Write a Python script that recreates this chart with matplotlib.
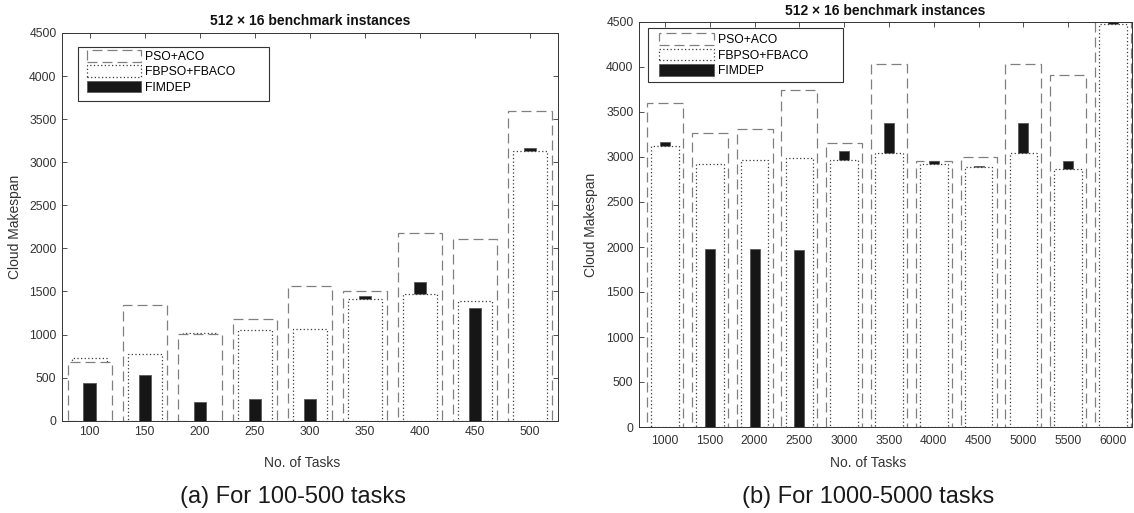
import matplotlib
matplotlib.use('Agg')
import matplotlib.pyplot as plt
from matplotlib.patches import Patch, Rectangle

plt.rcParams['font.family'] = ['Liberation Sans', 'DejaVu Sans']

# ---- data ----
series_names = ['PSO+ACO', 'FBPSO+FBACO', 'FIMDEP']

tasks_a = [100, 150, 200, 250, 300, 350, 400, 450, 500]
pso_aco_a = [683, 1345, 1012, 1175, 1565, 1510, 2180, 2110, 3595]
fbpso_fbaco_a = [722, 776, 1020, 1058, 1065, 1415, 1465, 1385, 3125]
fimdep_a = [436, 534, 213, 255, 255, 1450, 1605, 1310, 3162]

tasks_b = [1000, 1500, 2000, 2500, 3000, 3500, 4000, 4500, 5000, 5500, 6000]
pso_aco_b = [3595, 3262, 3311, 3745, 3160, 4030, 2958, 3000, 4030, 3915, 4600]
fbpso_fbaco_b = [3122, 2918, 2970, 2990, 2970, 3045, 2927, 2890, 3045, 2871, 4480]
fimdep_b = [3163, 1978, 1978, 1965, 3070, 3380, 2950, 2904, 3380, 2960, 4510]

# ---- styles ----
rel_width = [0.8, 0.62, 0.22]
styles = [
    dict(facecolor='white', edgecolor='#808080', linestyle=(0, (8, 4)), linewidth=0.9),
    dict(facecolor='white', edgecolor='#3a3a3a', linestyle=(0, (1, 1.9)), linewidth=0.9),
    dict(facecolor='#161616', edgecolor='#5a5a5a', linestyle='-', linewidth=0.6),
]
axis_col = '#333333'


def draw_panel(ax, tasks, cols, step, xlim, title_pad, xpad, ylab_x, xlab_xy, box, leg_xy):
    # taller bars go to the back so the shorter ones stay visible (MATLAB-like overlay)
    for i, x in enumerate(tasks):
        vals = [c[i] for c in cols]
        order = sorted(range(3), key=lambda k: -vals[k])
        for rank, k in enumerate(order):
            ax.bar(x, vals[k], width=rel_width[k] * step, zorder=2 + rank, **styles[k])

    ax.set_xlim(*xlim)
    ax.set_ylim(0, 4500)
    ax.set_xticks(tasks)
    ax.set_xticklabels([str(t) for t in tasks])
    ax.set_yticks(range(0, 4501, 500))
    ax.tick_params(direction='in', top=True, right=True, length=3.6, width=0.6,
                   labelsize=8.7, colors=axis_col, pad=4)
    ax.tick_params(axis='x', pad=xpad)
    for sp in ax.spines.values():
        sp.set_color(axis_col)
        sp.set_linewidth(0.7)
        sp.set_zorder(8)

    ax.set_title('512 × 16 benchmark instances', fontsize=10, fontweight='bold',
                 color='#111111', pad=title_pad)
    ax.set_ylabel('Cloud Makespan', fontsize=10, color=axis_col)
    ax.yaxis.set_label_coords(ylab_x, 0.5)
    ax.set_xlabel('No. of Tasks', fontsize=10, color=axis_col)
    ax.xaxis.set_label_coords(*xlab_xy)

    x0, x1, yb, yt = box
    ax.add_patch(Rectangle((x0, yb), x1 - x0, yt - yb, transform=ax.transAxes,
                           facecolor='white', edgecolor=axis_col, linewidth=0.8,
                           zorder=9, clip_on=False))
    handles = [Patch(**s) for s in styles]
    leg = ax.legend(handles, series_names, loc='upper left', bbox_to_anchor=leg_xy,
                    borderaxespad=0, borderpad=0, frameon=False, fontsize=8.7,
                    handlelength=4.5, handleheight=1.1, handletextpad=0.35,
                    labelspacing=0.2)
    leg.set_zorder(10)


fig = plt.figure(figsize=(11.34, 5.13), dpi=100)
W, H = 1134, 513

ax_a = fig.add_axes([62 / W, 1 - 420.7 / H, 496 / W, 387.7 / H])
ax_b = fig.add_axes([639 / W, 1 - 427 / H, 493 / W, 405 / H])

draw_panel(ax_a, tasks_a, [pso_aco_a, fbpso_fbaco_a, fimdep_a], 50, (75, 525.5),
           5.8, 4, -0.0806, (0.484, -0.0898),
           (0.0313, 0.4165, 0.8246, 0.9647), (0.0498, 0.956))
draw_panel(ax_b, tasks_b, [pso_aco_b, fbpso_fbaco_b, fimdep_b], 500, (710, 6212),
           5.2, 5.5, -0.0822, (0.4657, -0.0728),
           (0.0191, 0.4132, 0.8511, 0.9844), (0.041, 0.9719))

fig.text(293 / W, 1 - 496.7 / H, '(a) For 100-500 tasks', ha='center', va='center',
         fontsize=17, color='#1a1a1a')
fig.text(868 / W, 1 - 496.7 / H, '(b) For 1000-5000 tasks', ha='center', va='center',
         fontsize=17, color='#1a1a1a')

fig.savefig('out.png', dpi=100)
